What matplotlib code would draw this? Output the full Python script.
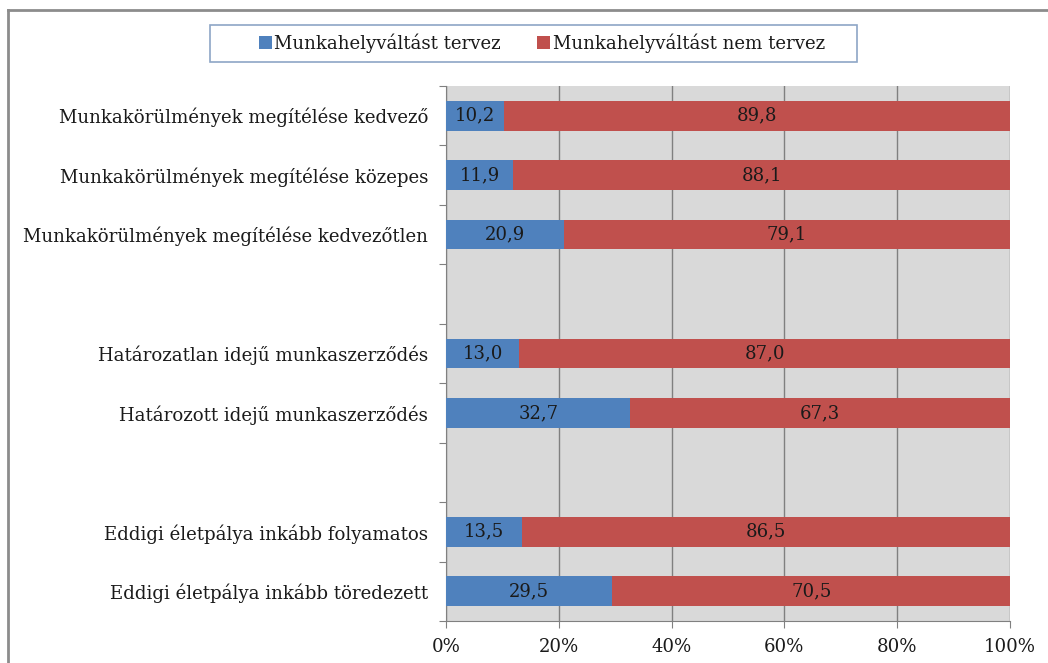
import numpy as np
import matplotlib.pyplot as plt
from matplotlib.patches import Rectangle

categories = [
    "Munkakörülmények megítélése kedvező",
    "Munkakörülmények megítélése közepes",
    "Munkakörülmények megítélése kedvezőtlen",
    "",
    "Határozatlan idejű munkaszerződés",
    "Határozott idejű munkaszerződés",
    "",
    "Eddigi életpálya inkább folyamatos",
    "Eddigi életpálya inkább töredezett",
]
tervez = [10.2, 11.9, 20.9, None, 13.0, 32.7, None, 13.5, 29.5]
nem_tervez = [89.8, 88.1, 79.1, None, 87.0, 67.3, None, 86.5, 70.5]
series_names = ["Munkahelyváltást tervez", "Munkahelyváltást nem tervez"]
xticks = [0, 20, 40, 60, 80, 100]

blue = "#4F81BD"
red = "#C0504D"
txt = "#1a1a1a"
font = "DejaVu Serif"
fs = 13.1

fig = plt.figure(figsize=(10.48, 6.63), dpi=100)
W, H = 1048, 663
ax = fig.add_axes([446 / W, 1 - 621 / H, (1010 - 446) / W, (621 - 86) / H])
ax.set_facecolor("#D9D9D9")

n = len(categories)
y = np.arange(n)
idx = [i for i in range(n) if tervez[i] is not None]
a = np.array([tervez[i] for i in idx])
b = np.array([nem_tervez[i] for i in idx])
yy = y[idx]

ax.barh(yy, a, height=0.5, color=blue, label=series_names[0], zorder=3)
ax.barh(yy, b, left=a, height=0.5, color=red, label=series_names[1], zorder=3)

for yi, ai, bi in zip(yy, a, b):
    ax.text(ai / 2, yi, f"{ai:.1f}".replace(".", ","), ha="center", va="center",
            fontsize=fs, family=font, color=txt, zorder=4)
    ax.text(ai + bi / 2, yi, f"{bi:.1f}".replace(".", ","), ha="center", va="center",
            fontsize=fs, family=font, color=txt, zorder=4)

ax.set_xlim(0, 100)
ax.set_ylim(n - 0.5, -0.5)
ax.set_xticks(xticks)
ax.set_xticklabels([f"{t}%" for t in xticks], family=font, fontsize=fs, color=txt)
ax.xaxis.grid(True, color="#808080", linewidth=1, zorder=1)
ax.set_axisbelow(True)

# category labels at bar centres, ticks at boundaries
ax.set_yticks(np.arange(n + 1) - 0.5)
ax.set_yticklabels([])
ax.set_yticks(y, minor=True)
ax.set_yticklabels(categories, minor=True, family=font, fontsize=fs, color=txt)
ax.tick_params(axis="y", which="minor", length=0, pad=13)
ax.tick_params(axis="y", which="major", length=5, color="#808080")
ax.tick_params(axis="x", length=5, color="#808080", pad=7)

for s in ["top", "right"]:
    ax.spines[s].set_visible(False)
for s in ["left", "bottom"]:
    ax.spines[s].set_color("#808080")

# legend with its own box
fig.patches.append(Rectangle((210 / W, 1 - 62 / H), (857 - 210) / W, 37 / H,
                             transform=fig.transFigure, facecolor="white",
                             edgecolor="#8EA6C6", linewidth=1.2))
fig.legend(loc="center", bbox_to_anchor=(542 / W, 1 - 43 / H), ncol=2, frameon=False,
           prop={"family": font, "size": fs}, handlelength=0.7, handleheight=0.7,
           handletextpad=0.15, columnspacing=2.0, labelcolor=txt)

# outer chart border (cut off at right and bottom)
fig.add_artist(plt.Line2D([8 / W, 1], [1 - 10 / H, 1 - 10 / H], transform=fig.transFigure,
                          color="#8C8C8C", linewidth=2))
fig.add_artist(plt.Line2D([8 / W, 8 / W], [0, 1 - 10 / H], transform=fig.transFigure,
                          color="#8C8C8C", linewidth=2))

fig.savefig("out.png", dpi=100)
